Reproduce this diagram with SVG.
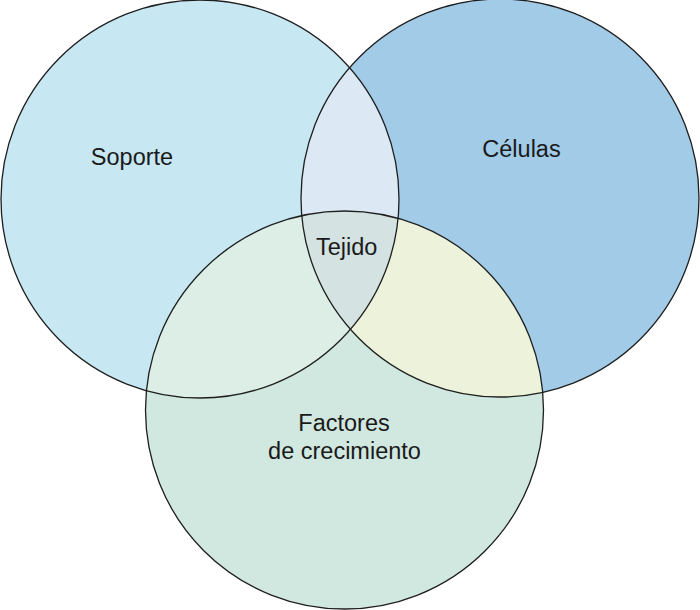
<svg xmlns="http://www.w3.org/2000/svg" width="700" height="610" viewBox="0 0 700 610">
<style>
.lbl{font-family:"Liberation Sans",Arial,sans-serif;font-size:23.5px;fill:#1a1a1a;text-anchor:middle}
.ring{fill:none;stroke:#1e1e1e;stroke-width:1.3}
</style>
<defs>
<clipPath id="cL"><circle cx="200" cy="199" r="199"/></clipPath>
<clipPath id="cR"><circle cx="500" cy="198" r="199"/></clipPath>
<clipPath id="cB"><circle cx="344.5" cy="410" r="199"/></clipPath>
</defs>
<rect width="700" height="610" fill="#ffffff"/>
<g id="soporte">
<circle cx="200" cy="199" r="199" fill="#C7E7F2"/>
</g>
<g id="celulas">
<circle cx="500" cy="198" r="199" fill="#A2CBE8"/>
</g>
<g id="factores">
<circle cx="344.5" cy="410" r="199" fill="#D0E8E0"/>
</g>
<g id="overlaps">
<g clip-path="url(#cL)"><circle cx="500" cy="198" r="199" fill="#DCE9F4"/></g>
<g clip-path="url(#cL)"><circle cx="344.5" cy="410" r="199" fill="#DCEEE6"/></g>
<g clip-path="url(#cR)"><circle cx="344.5" cy="410" r="199" fill="#ECF3DA"/></g>
<g clip-path="url(#cL)"><g clip-path="url(#cR)"><circle cx="344.5" cy="410" r="199" fill="#D4E2E2"/></g></g>
</g>
<g id="outlines">
<circle class="ring" cx="200" cy="199" r="199"/>
<circle class="ring" cx="500" cy="198" r="199"/>
<circle class="ring" cx="344.5" cy="410" r="199"/>
</g>
<g id="labels">
<text class="lbl" x="132" y="165">Soporte</text>
<text class="lbl" x="521.5" y="157">Células</text>
<text class="lbl" x="346.7" y="255">Tejido</text>
<text class="lbl" x="344" y="431">Factores</text>
<text class="lbl" x="344.5" y="459">de crecimiento</text>
</g>
</svg>
